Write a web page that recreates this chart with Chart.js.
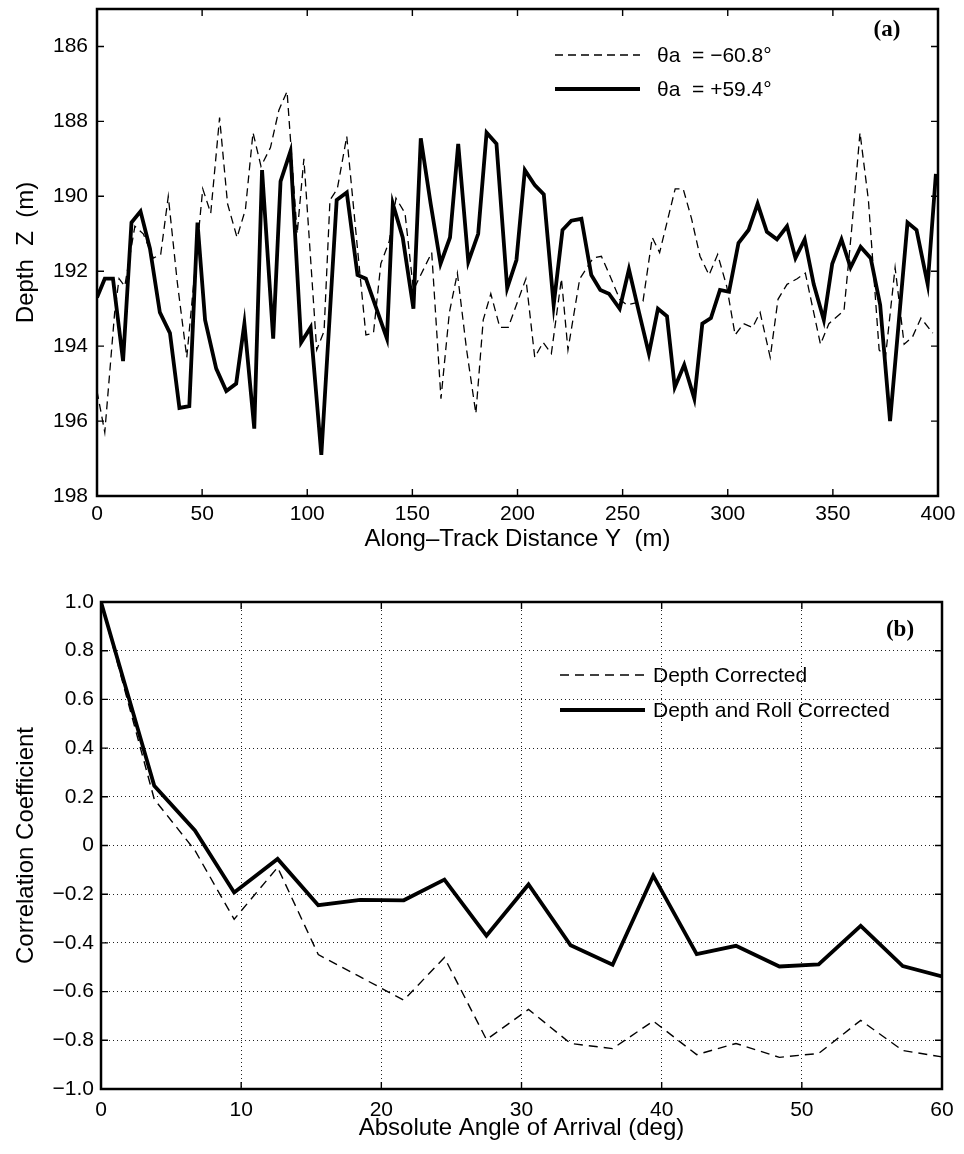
<!DOCTYPE html>
<html><head><meta charset="utf-8">
<script src="https://cdn.jsdelivr.net/npm/chart.js@4.4.0/dist/chart.umd.min.js"></script>
<style>
html,body{margin:0;padding:0;background:#fff;}
#wrap{position:relative;width:964px;height:1154px;background:#fff;}
.box{position:absolute;left:0;width:964px;}
</style></head><body>
<div id="wrap">
<div class="box" style="top:0;height:560px"><canvas id="c1" width="964" height="560"></canvas></div>
<div class="box" style="top:560px;height:594px"><canvas id="c2" width="964" height="594"></canvas></div>
</div>
<script>
// ---- Panel (a) data ----
const posDist = [0,3.7,7.6,12.4,16.4,20.7,25.2,29.9,34.7,39.2,43.9,47.8,51.4,56.7,61.5,66.2,70.1,74.8,78.5,83.8,87.3,92.0,97.1,101.6,106.7,114.0,118.8,123.9,127.9,137.9,140.7,145.4,150.5,154.0,158.7,163.4,167.9,171.8,176.6,181.3,185.3,190.0,195.1,199.5,203.5,208.2,212.5,217.2,221.4,225.6,230.4,235.1,239.4,243.5,248.6,253.0,257.8,262.5,266.8,271.1,274.8,279.3,284.1,287.9,292.0,296.3,300.6,305.1,309.9,314.2,318.6,323.4,328.2,332.2,336.6,340.9,345.7,349.7,354.1,358.4,363.2,368.0,372.5,377.2,385.5,389.8,395.1,399.0];
const posDepth = [192.7,192.2,192.2,194.4,190.7,190.4,191.4,193.1,193.65,195.65,195.6,190.7,193.3,194.6,195.2,195.0,193.4,196.2,189.3,193.8,189.6,188.8,193.9,193.5,196.9,190.1,189.9,192.1,192.2,193.8,190.2,191.1,193.0,188.45,190.2,191.8,191.1,188.6,191.75,191.0,188.3,188.6,192.45,191.7,189.3,189.7,189.95,192.9,190.9,190.65,190.6,192.1,192.5,192.6,193.0,191.95,193.1,194.2,193.0,193.2,195.1,194.5,195.4,193.4,193.25,192.5,192.55,191.25,190.9,190.2,190.95,191.15,190.8,191.65,191.15,192.35,193.3,191.8,191.15,191.9,191.35,191.65,192.9,196.0,190.7,190.9,192.35,189.4];
const negDist = [0,3.7,8.4,10.5,13.2,18.0,22.0,26.8,30.3,33.9,38.2,42.7,46.2,50.3,54.1,58.3,62.1,66.6,70.6,74.2,78.0,82.5,86.5,90.4,95.2,98.4,104.5,108.0,110.8,114.3,118.8,123.9,127.9,131.5,135.0,139.0,142.2,146.5,150.5,159.2,163.6,167.6,171.4,175.8,180.2,183.7,187.3,191.6,195.6,204.0,208.2,212.2,216.1,220.9,224.0,229.6,236.0,239.9,243.8,248.6,252.0,259.7,264.1,267.6,275.0,278.8,282.8,286.8,291.1,295.2,299.5,303.5,307.5,311.8,315.4,320.2,323.9,328.2,333.0,336.9,344.1,348.1,355.3,358.9,362.9,366.9,372.0,375.0,379.6,383.9,387.9,391.9,397.5];
const negDepth = [195.2,196.3,193.1,192.2,192.4,190.8,191.0,191.65,191.55,190.0,192.3,194.3,192.2,189.8,190.45,187.9,190.2,191.1,190.35,188.3,189.2,188.7,187.7,187.2,191.0,189.0,194.1,193.6,190.1,189.8,188.4,191.4,193.7,193.65,191.8,191.2,190.05,190.45,192.5,191.5,195.4,193.1,192.05,194.1,195.8,193.3,192.6,193.5,193.5,192.2,194.3,193.9,194.2,192.2,194.1,192.2,191.65,191.6,192.1,192.75,192.9,192.8,191.1,191.5,189.8,189.8,190.6,191.6,192.1,191.55,192.4,193.7,193.4,193.5,193.1,194.3,192.75,192.35,192.2,192.05,193.95,193.4,193.05,190.9,188.3,190.1,194.1,194.3,191.9,193.95,193.75,193.25,193.65];
const distTicks = [0,50,100,150,200,250,300,350,400];
const depthTicks = [186,188,190,192,194,196,198];
const legendA = ['\u03B8a  = \u221260.8\u00B0', '\u03B8a  = +59.4\u00B0'];

// ---- Panel (b) data ----
const angles = [0,3.8,6.7,9.5,12.6,15.5,18.5,21.6,24.5,27.5,30.5,33.5,36.5,39.4,42.5,45.3,48.4,51.2,54.2,57.2,60];
const corrDepth = [1.0,0.19,-0.02,-0.303,-0.09,-0.448,-0.54,-0.635,-0.46,-0.797,-0.673,-0.813,-0.834,-0.721,-0.859,-0.813,-0.87,-0.854,-0.718,-0.842,-0.868];
const corrDepthRoll = [1.0,0.245,0.062,-0.193,-0.055,-0.245,-0.223,-0.225,-0.14,-0.37,-0.16,-0.41,-0.49,-0.124,-0.446,-0.412,-0.497,-0.488,-0.33,-0.495,-0.538];
const angleTicks = [0,10,20,30,40,50,60];
const corrTicks = [-1.0,-0.8,-0.6,-0.4,-0.2,0,0.2,0.4,0.6,0.8,1.0];
const legendB = ['Depth Corrected', 'Depth and Roll Corrected'];

const SANS = '"Liberation Sans", Arial, Helvetica, sans-serif';
Chart.defaults.font.family = SANS;
Chart.defaults.color = '#000';

function pts(xs, ys){ return xs.map((x,i)=>({x:x, y:ys[i]})); }

function decor(cfg){
  return {
    id: 'decor',
    afterDraw(chart){
      const {ctx, chartArea:a, scales} = chart;
      const xs = scales.x, ys = scales.y, L = 7;
      ctx.save();
      ctx.setLineDash([]);
      ctx.strokeStyle = '#000';
      ctx.lineWidth = 1.4;
      ctx.beginPath();
      xs.ticks.forEach(t=>{ const p = xs.getPixelForValue(t.value);
        ctx.moveTo(p, a.bottom); ctx.lineTo(p, a.bottom - L);
        ctx.moveTo(p, a.top); ctx.lineTo(p, a.top + L); });
      ys.ticks.forEach(t=>{ const p = ys.getPixelForValue(t.value);
        ctx.moveTo(a.left, p); ctx.lineTo(a.left + L, p);
        ctx.moveTo(a.right, p); ctx.lineTo(a.right - L, p); });
      ctx.stroke();
      ctx.lineWidth = 2.5;
      ctx.strokeRect(a.left, a.top, a.right - a.left, a.bottom - a.top);
      // panel tag
      ctx.fillStyle = '#000';
      ctx.font = 'bold 23px "Liberation Serif", "Times New Roman", serif';
      ctx.textAlign = 'center'; ctx.textBaseline = 'middle';
      ctx.fillText(cfg.tag, cfg.tagX, cfg.tagY);
      // legend
      ctx.font = '21px ' + SANS;
      ctx.textAlign = 'left';
      cfg.legend.forEach((it)=>{
        ctx.beginPath();
        ctx.lineWidth = it.w; ctx.setLineDash(it.dash);
        ctx.moveTo(cfg.lx0, it.y); ctx.lineTo(cfg.lx1, it.y); ctx.stroke();
        ctx.setLineDash([]);
        ctx.fillText(it.text, cfg.tx, it.y + 1);
      });
      ctx.restore();
    }
  };
}

function fixTicks(arr){ return function(scale){ scale.ticks = arr.map(v=>({value:v})); }; }
function fitX(h){ return s=>{ s.height = h; s.paddingLeft = 0; s.paddingRight = 0; }; }
function fitY(w){ return s=>{ s.width = w; s.paddingTop = 0; s.paddingBottom = 0; }; }

// ---- Chart (a) ----
new Chart(document.getElementById('c1'), {
  type: 'line',
  data: { datasets: [
    { label: legendA[0], data: pts(negDist, negDepth), borderColor:'#000', borderWidth:1.3, borderDash:[8,5], pointRadius:0, fill:false, tension:0 },
    { label: legendA[1], data: pts(posDist, posDepth), borderColor:'#000', borderWidth:3.8, pointRadius:0, fill:false, tension:0, borderJoinStyle:'miter' }
  ]},
  options: {
    responsive:false, animation:false, devicePixelRatio:1,
    layout: { padding: { left:0, right:26, top:9, bottom:0 } },
    plugins: { legend:{display:false}, tooltip:{enabled:false} },
    scales: {
      x: { type:'linear', min:0, max:400,
        afterBuildTicks: fixTicks(distTicks),
        afterFit: fitX(64),
        grid:{ display:false, drawTicks:false }, border:{display:false},
        ticks:{ font:{size:21}, padding:6, maxRotation:0, autoSkip:false },
        title:{ display:true, text:'Along\u2013Track Distance Y  (m)', font:{size:24}, padding:{top:0,bottom:6} } },
      y: { type:'linear', min:185, max:198, reverse:true,
        afterBuildTicks: fixTicks(depthTicks),
        afterFit: fitY(97),
        grid:{ display:false, drawTicks:false }, border:{display:false},
        ticks:{ font:{size:21}, padding:9, autoSkip:false },
        title:{ display:true, text:'Depth  Z  (m)', font:{size:24}, padding:{top:12,bottom:0} } }
    }
  },
  plugins: [decor({ tag:'(a)', tagX:887, tagY:30, lx0:555, lx1:640, tx:657,
    legend:[ {text:legendA[0], y:55, w:1.3, dash:[8,5]}, {text:legendA[1], y:89, w:3.8, dash:[]} ] })]
});

// ---- Chart (b) ----
new Chart(document.getElementById('c2'), {
  type: 'line',
  data: { datasets: [
    { label: legendB[0], data: pts(angles, corrDepth), borderColor:'#000', borderWidth:1.4, borderDash:[9,6], pointRadius:0, fill:false, tension:0 },
    { label: legendB[1], data: pts(angles, corrDepthRoll), borderColor:'#000', borderWidth:3.8, pointRadius:0, fill:false, tension:0 }
  ]},
  options: {
    responsive:false, animation:false, devicePixelRatio:1,
    layout: { padding: { left:0, right:22, top:42, bottom:0 } },
    plugins: { legend:{display:false}, tooltip:{enabled:false} },
    scales: {
      x: { type:'linear', min:0, max:60,
        afterBuildTicks: fixTicks(angleTicks),
        afterFit: fitX(65),
        grid:{ display:true, drawTicks:false, color:'#222', lineWidth:1 },
        border:{ display:false, dash:[1,3] },
        ticks:{ font:{size:21}, padding:9, maxRotation:0, autoSkip:false },
        title:{ display:true, text:'Absolute Angle of Arrival (deg)', font:{size:24}, padding:{top:0,bottom:11} } },
      y: { type:'linear', min:-1, max:1,
        afterBuildTicks: fixTicks(corrTicks),
        afterFit: fitY(101),
        grid:{ display:true, drawTicks:false, color:'#222', lineWidth:1 },
        border:{ display:false, dash:[1,3] },
        ticks:{ font:{size:21}, padding:7, autoSkip:false,
          callback: v => { const r = Math.round(v*10)/10; if (r === 0) return '0'; return (r<0?'\u2212':'') + Math.abs(r).toFixed(1); } },
        title:{ display:true, text:'Correlation Coefficient', font:{size:24}, padding:{top:12,bottom:0} } }
    }
  },
  plugins: [decor({ tag:'(b)', tagX:900, tagY:70, lx0:560, lx1:645, tx:653,
    legend:[ {text:legendB[0], y:115, w:1.4, dash:[9,6]}, {text:legendB[1], y:150, w:3.8, dash:[]} ] })]
});
</script>
</body></html>
